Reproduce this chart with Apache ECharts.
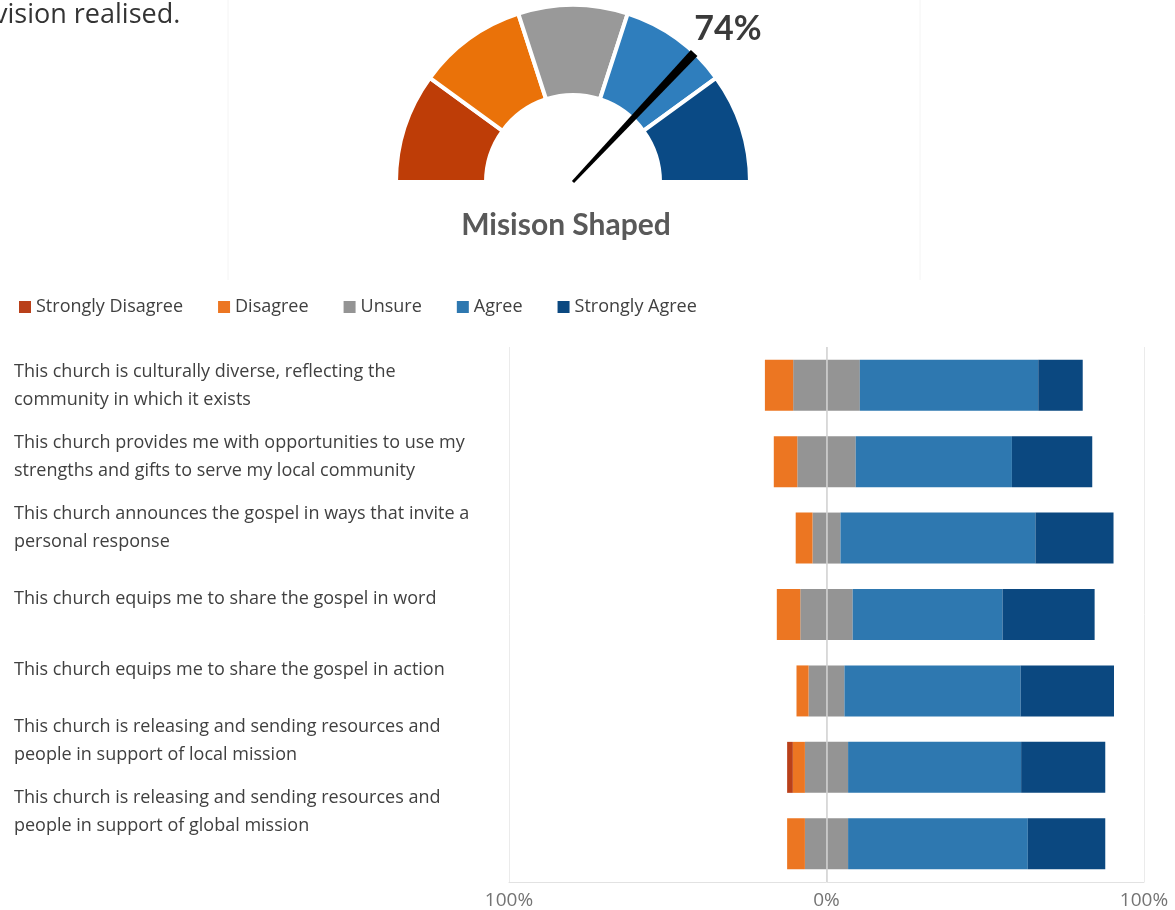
<!DOCTYPE html>
<html><head><meta charset="utf-8">
<script src="https://cdn.jsdelivr.net/npm/echarts@6/dist/echarts.min.js"></script>
<style>html,body{margin:0;padding:0;background:#fff}#c{width:1175px;height:910px}</style>
</head><body><div id="c"></div>
<script>
const statements = [
  'This church is culturally diverse, reflecting the\ncommunity in which it exists',
  'This church provides me with opportunities to use my\nstrengths and gifts to serve my local community',
  'This church announces the gospel in ways that invite a\npersonal response',
  'This church equips me to share the gospel in word',
  'This church equips me to share the gospel in action',
  'This church is releasing and sending resources and\npeople in support of local mission',
  'This church is releasing and sending resources and\npeople in support of global mission'
];
const stronglyDisagree = [0, 0, 0, 0, 0, 1.8, 0];
const disagree        = [8.9, 7.4, 5.3, 7.4, 3.8, 3.8, 5.6];
const unsure          = [21.0, 18.4, 8.8, 16.5, 11.3, 13.6, 13.6];
const agree           = [56.2, 49.2, 61.4, 47.2, 55.5, 54.5, 56.6];
const stronglyAgree   = [14.0, 25.3, 24.6, 29.0, 29.4, 26.5, 24.4];
const legendNames = ['Strongly Disagree', 'Disagree', 'Unsure', 'Agree', 'Strongly Agree'];
const gaugeBandValues = [1, 1, 1, 1, 1];
const gaugeValue = 74;
const gaugeTitle = 'Misison Shaped';
const headerText = 'vision realised.';

const C = {sd:'#B9401A', d:'#EC7622', u:'#949494', a:'#2E78B0', sa:'#0B4880'};
const gaugeColors = ['#BE3D07', '#EA7209', '#999999', '#2F7EBD', '#0A4A85'];
const FONT = "'Open Sans', sans-serif";

const chart = echarts.init(document.getElementById('c'), null, {renderer:'canvas'});

const mk = (name, data, color, extra) => Object.assign({
  type:'bar', name, stack:'s', data, barWidth:51, xAxisIndex:0, yAxisIndex:0,
  itemStyle:{color}, emphasis:{disabled:true}
}, extra || {});

const pieData = gaugeBandValues.map((v, i) => ({value:v, itemStyle:{color:gaugeColors[i]}}));
pieData.push({value: gaugeBandValues.reduce((a, b) => a + b, 0), itemStyle:{color:'rgba(0,0,0,0)', borderWidth:0}});

chart.setOption({
  animation:false,
  backgroundColor:'#fff',
  graphic:[
    {type:'text', left:-6, top:2, style:{text:headerText, font:"27px 'Open Sans', sans-serif", fill:'#333'}},
    {type:'line', shape:{x1:228, y1:0, x2:228, y2:280}, style:{stroke:'#f4f4f4', lineWidth:1}},
    {type:'line', shape:{x1:920, y1:0, x2:920, y2:280}, style:{stroke:'#f4f4f4', lineWidth:1}}
  ],
  legend:{
    data:legendNames, left:14, top:293, icon:'rect', itemWidth:12, itemHeight:12, itemGap:35,
    selectedMode:false,
    textStyle:{fontSize:18, color:'#404040', fontFamily:FONT}
  },
  grid:[
    {left:509, width:635, top:347, height:537},
    {left:509, width:635, top:350, height:497}
  ],
  xAxis:[
    {gridIndex:0, type:'value', min:-100, max:100, interval:100,
     axisLine:{show:true, lineStyle:{color:'#e2e2e2'}}, axisTick:{show:false},
     splitLine:{show:true, lineStyle:{color:'#ebebeb'}},
     axisLabel:{formatter:v => Math.abs(v) + '%', fontSize:19, color:'#747474', margin:9, fontFamily:FONT}},
    {gridIndex:1, type:'value', min:-100, max:100, show:false}
  ],
  yAxis:[
    {gridIndex:0, type:'category', data:statements, inverse:true, show:false},
    {gridIndex:1, type:'category', data:statements, inverse:true,
     axisLine:{show:false}, axisTick:{show:false}, splitLine:{show:false},
     axisLabel:{align:'left', margin:495, fontSize:18, lineHeight:28, color:'#404040', fontFamily:FONT}}
  ],
  series:[
    mk('Unsure', unsure.map(v => -v / 2), C.u),
    mk('Unsure', unsure.map(v => v / 2), C.u),
    mk('Disagree', disagree.map(v => -v), C.d),
    mk('Strongly Disagree', stronglyDisagree.map(v => -v), C.sd),
    mk('Agree', agree, C.a),
    mk('Strongly Agree', stronglyAgree, C.sa, {
      markLine:{silent:true, symbol:'none', label:{show:false},
        lineStyle:{color:'#d2d2d2', width:1.5, type:'solid'}, data:[{xAxis:0}]}
    }),
    {
      type:'pie', z:1, center:[573, 182], radius:[87, 177], startAngle:180, silent:true,
      label:{show:false}, labelLine:{show:false}, emphasis:{disabled:true},
      itemStyle:{borderColor:'#fff', borderWidth:4},
      data:pieData
    },
    {
      type:'gauge', z:10, center:[573, 182], radius:177, startAngle:180, endAngle:0, min:0, max:100,
      axisLine:{show:false}, splitLine:{show:false}, axisTick:{show:false}, axisLabel:{show:false},
      pointer:{icon:'path://M0,0 L9,0 L6,177 L3,177 Z', length:177, width:9, keepAspect:false, itemStyle:{color:'#000'}},
      anchor:{show:false},
      title:{offsetCenter:[-7, 43], fontSize:30, fontWeight:'bold', color:'#595959', fontFamily:'Lato'},
      detail:{offsetCenter:[155, -153], formatter:'{value}%', fontSize:34, fontWeight:'bold', color:'#3a3a3a', fontFamily:'Lato'},
      data:[{value:gaugeValue, name:gaugeTitle}]
    }
  ]
});
</script></body></html>
